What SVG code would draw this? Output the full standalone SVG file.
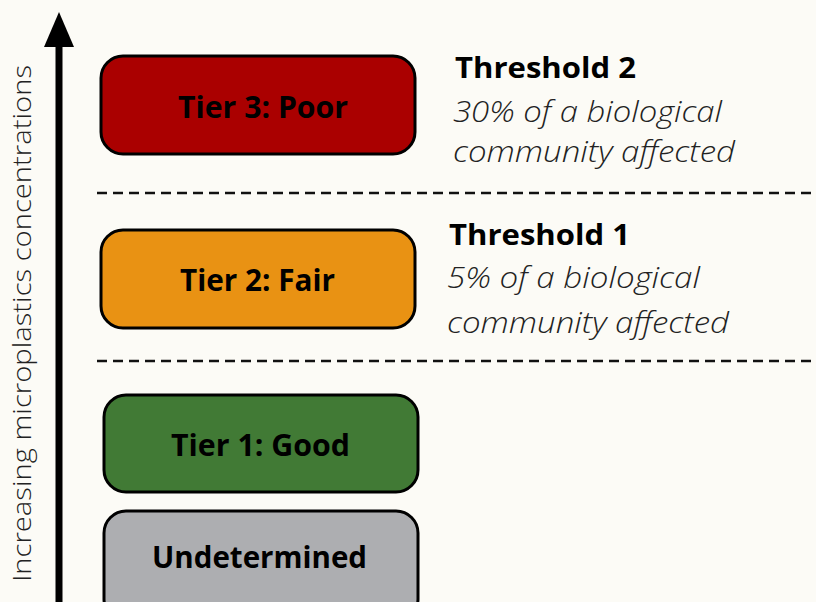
<svg xmlns="http://www.w3.org/2000/svg" width="816" height="602" viewBox="0 0 816 602">
<defs>
<style>
.box{stroke:#000;stroke-width:3}
.lbl{font-family:"Open Sans","Noto Sans","Liberation Sans",sans-serif;font-weight:700;font-size:31px;text-anchor:middle;fill:#000}
.th{font-family:"Open Sans","Noto Sans","Liberation Sans",sans-serif;font-weight:700;font-size:29px;fill:#000}
.it{font-family:"Open Sans","Noto Sans","Liberation Sans",sans-serif;font-weight:300;font-style:italic;font-size:29.5px;fill:#222}
.dash{stroke:#111;stroke-width:2.5;stroke-dasharray:10 6;fill:none}
</style>
</defs>
<rect width="816" height="602" fill="#fcfbf6"/>
<g id="axis">
<line x1="59" y1="602" x2="59" y2="40" stroke="#000" stroke-width="7"/>
<polygon points="59,12 74,47 44,47" fill="#000"/>
<text transform="translate(31,323.5) rotate(-90)" text-anchor="middle" font-family="'Open Sans','Noto Sans','Liberation Sans',sans-serif" font-weight="300" font-size="26.5" fill="#222" textLength="517" lengthAdjust="spacingAndGlyphs">Increasing  microplastics concentrations</text>
</g>
<g id="connectors">
<line class="dash" x1="97" y1="193" x2="816" y2="193"/>
<line class="dash" x1="97" y1="361" x2="816" y2="361"/>
</g>
<g id="tier3">
<rect class="box" x="101" y="56" width="314" height="98" rx="22" fill="#aa0000"/>
<text class="lbl" x="263" y="118" textLength="170" lengthAdjust="spacingAndGlyphs">Tier 3: Poor</text>
</g>
<g id="tier2">
<rect class="box" x="101" y="230" width="314" height="98" rx="22" fill="#e99213"/>
<text class="lbl" x="257.5" y="291" textLength="155" lengthAdjust="spacingAndGlyphs">Tier 2: Fair</text>
</g>
<g id="tier1">
<rect class="box" x="104" y="395" width="314" height="97" rx="22" fill="#417a35"/>
<text class="lbl" x="260.5" y="456" textLength="179" lengthAdjust="spacingAndGlyphs">Tier 1: Good</text>
</g>
<g id="undetermined">
<rect class="box" x="104" y="511" width="314" height="110" rx="22" fill="#adaeb1"/>
<text class="lbl" x="259.5" y="568" textLength="215" lengthAdjust="spacingAndGlyphs">Undetermined</text>
</g>
<g id="threshold2">
<text class="th" x="455" y="78" textLength="181" lengthAdjust="spacingAndGlyphs">Threshold 2</text>
<text class="it" x="453" y="122" textLength="269" lengthAdjust="spacingAndGlyphs">30% of a biological</text>
<text class="it" x="453" y="162" textLength="282" lengthAdjust="spacingAndGlyphs">community affected</text>
</g>
<g id="threshold1">
<text class="th" x="449" y="245" textLength="181" lengthAdjust="spacingAndGlyphs">Threshold 1</text>
<text class="it" x="447" y="288" textLength="253" lengthAdjust="spacingAndGlyphs">5% of a biological</text>
<text class="it" x="447" y="333" textLength="282" lengthAdjust="spacingAndGlyphs">community affected</text>
</g>
</svg>
